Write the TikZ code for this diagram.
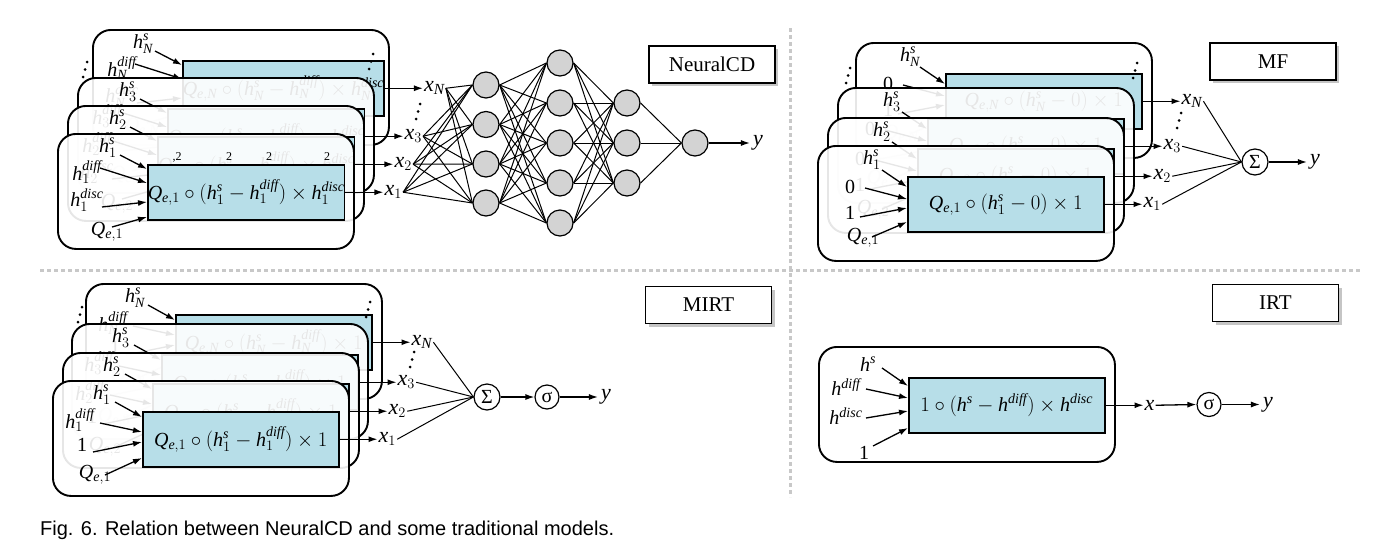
\documentclass[tikz,border=0pt]{standalone}
\usepackage{fontspec}
\setmainfont{Liberation Serif}
\newfontfamily\capfont{Liberation Sans}
\usetikzlibrary{arrows.meta,shadows,calc}

\definecolor{boxblue}{RGB}{183,222,232}
\definecolor{sepgray}{RGB}{200,200,200}
\definecolor{nngray}{RGB}{211,211,211}

\newcommand\fmfont{\fontsize{20}{24}\selectfont}
\newcommand\lbfont{\fontsize{20}{23}\selectfont}
\newcommand\xyfont{\fontsize{22}{25}\selectfont}
\newcommand\mytagfont{\fontsize{21}{25}\selectfont}
\newcommand\vh{\mathit{h}}
\newcommand\vQ{\mathit{Q}}
\newcommand\vx{\mathit{x}}
\newcommand\vy{\mathit{y}}
\newcommand\vs{\mathit{s}}
\newcommand\vdiff{\mathit{diff}}
\newcommand\vdisc{\mathit{disc}}
\newcommand\ve{\mathit{e}}

\tikzset{
 outerbox/.style={draw, line width=1.9pt, rounded corners=18pt, fill=white, fill opacity=0.9, minimum width=296pt, minimum height=115pt, inner sep=0pt, anchor=north west},
 bluebox/.style={draw, line width=1.5pt, fill=boxblue, minimum width=196pt, minimum height=55pt, inner sep=0pt, anchor=north west, font=\fmfont},
 arr/.style={-{Latex[length=9pt,width=6pt]}, line width=1.3pt},
 inlab/.style={inner sep=0pt, font=\lbfont},
 xlab/.style={inner sep=1pt, anchor=west, font=\xyfont},
 ylab/.style={inner sep=3pt, font=\xyfont},
 neuron/.style={circle, draw, line width=1.2pt, fill=nngray, minimum size=26pt, inner sep=0pt},
 opnode/.style={circle, draw, line width=1.2pt, fill=white, minimum size=26pt, inner sep=0pt, font=\lbfont},
 tagbox/.style={draw, line width=1.3pt, fill=white, minimum width=126pt, minimum height=37pt, inner sep=0pt, font=\mytagfont, drop shadow={shadow xshift=3pt, shadow yshift=-3pt, fill=black!45}},
 sep/.style={line width=3pt, sepgray, dash pattern=on 4pt off 3pt},
 nnline/.style={line width=1pt},
 dotmark/.style={fill=black},
}

% #1 name, #2 L, #3 T, #4 index
\newcommand\ncdlayer[4]{%
 \begin{scope}[shift={(#2,#3)}]
 \node[outerbox] (#1box) at (0,0) {};
 \node[inlab] (#1hs) at (51,15) {$\vh_{#4}^{\vs}$};
 \node[inlab] (#1hd) at (30,39) {$\vh_{#4}^{\vdiff}$};
 \node[inlab] (#1hc) at (30,67) {$\vh_{#4}^{\vdisc}$};
 \node[inlab] (#1q) at (50,99) {$\vQ_{\ve,#4}$};
 \node[bluebox] (#1blue) at (90,31) {$\vQ_{\ve,#4}\circ(\vh_{#4}^{\vs}-\vh_{#4}^{\vdiff})\times \vh_{#4}^{\vdisc}$};
 \coordinate (#1a1) at (63,22); \coordinate (#1b1) at (90,36);
 \coordinate (#1a2) at (43,35); \coordinate (#1b2) at (90,50);
 \coordinate (#1a3) at (45,74); \coordinate (#1b3) at (90,69);
 \coordinate (#1a4) at (55,94); \coordinate (#1b4) at (90,84);
 \draw[arr] (#1a1) -- (#1b1);
 \draw[arr] (#1a2) -- (#1b2);
 \draw[arr] (#1a3) -- (#1b3);
 \draw[arr] (#1a4) -- (#1b4);
 \node[xlab] (#1x) at ($(#1blue.east)+(38,0)$) {$\vx_{#4}$};
 \draw[arr] (#1blue.east) -- (#1x.west);
 \end{scope}}

\newcommand\mflayer[4]{%
 \begin{scope}[shift={(#2,#3)}]
 \node[outerbox] (#1box) at (0,0) {};
 \node[inlab] (#1hs) at (55,15) {$\vh_{#4}^{\vs}$};
 \node[inlab] (#1z) at (33,42) {0};
 \node[inlab] (#1o) at (33,68) {1};
 \node[inlab] (#1q) at (46,93) {$\vQ_{\ve,#4}$};
 \node[bluebox] (#1blue) at (90,31) {$\vQ_{\ve,#4}\circ(\vh_{#4}^{\vs}-0)\times 1$};
 \coordinate (#1a1) at (65,25); \coordinate (#1b1) at (90,42);
 \coordinate (#1a2) at (48,43); \coordinate (#1b2) at (90,54);
 \coordinate (#1a3) at (43,72); \coordinate (#1b3) at (90,63);
 \coordinate (#1a4) at (55,92); \coordinate (#1b4) at (90,77);
 \draw[arr] (#1a1) -- (#1b1);
 \draw[arr] (#1a2) -- (#1b2);
 \draw[arr] (#1a3) -- (#1b3);
 \draw[arr] (#1a4) -- (#1b4);
 \node[xlab] (#1x) at ($(#1blue.east)+(38,0)$) {$\vx_{#4}$};
 \draw[arr] (#1blue.east) -- (#1x.west);
 \end{scope}}

\newcommand\mirtlayer[4]{%
 \begin{scope}[shift={(#2,#3)}]
 \node[outerbox] (#1box) at (0,0) {};
 \node[inlab] (#1hs) at (50,15) {$\vh_{#4}^{\vs}$};
 \node[inlab] (#1hd) at (28,40) {$\vh_{#4}^{\vdiff}$};
 \node[inlab] (#1o) at (30,65) {1};
 \node[inlab] (#1q) at (43,95) {$\vQ_{\ve,#4}$};
 \node[bluebox] (#1blue) at (90,31) {$\vQ_{\ve,#4}\circ(\vh_{#4}^{\vs}-\vh_{#4}^{\vdiff})\times 1$};
 \coordinate (#1a1) at (63,22); \coordinate (#1b1) at (90,37);
 \coordinate (#1a2) at (48,43); \coordinate (#1b2) at (90,52);
 \coordinate (#1a3) at (41,72); \coordinate (#1b3) at (90,62);
 \coordinate (#1a4) at (53,95); \coordinate (#1b4) at (90,78);
 \draw[arr] (#1a1) -- (#1b1);
 \draw[arr] (#1a2) -- (#1b2);
 \draw[arr] (#1a3) -- (#1b3);
 \draw[arr] (#1a4) -- (#1b4);
 \node[xlab] (#1x) at ($(#1blue.east)+(38,0)$) {$\vx_{#4}$};
 \draw[arr] (#1blue.east) -- (#1x.west);
 \end{scope}}

\newcommand\threedots[2]{%
 \fill[dotmark] (#1+2,#2) circle (1.5pt);
 \fill[dotmark] (#1,#2+7.5) circle (1.5pt);
 \fill[dotmark] (#1-2,#2+15) circle (1.5pt);}

\begin{document}
\begin{tikzpicture}[x=1pt,y=-1pt]
\useasboundingbox (0,0) rectangle (1394,546);

% separators
\draw[sep] (790,28) -- (790,497);
\draw[sep] (40,270) -- (1362,270);

% ===== NeuralCD =====
\ncdlayer{ncdN}{92}{29}{\mathit{N}}
\ncdlayer{ncdc}{77}{77}{3}
\ncdlayer{ncdb}{67}{105}{2}
\ncdlayer{ncda}{57}{133}{1}
\node[font=\fontsize{12}{14}\selectfont, inner sep=0pt] (s2a) at (177,157) {,2};
\node[font=\fontsize{12}{14}\selectfont, inner sep=0pt] (s2b) at (229,157) {2};
\node[font=\fontsize{12}{14}\selectfont, inner sep=0pt] (s2c) at (269,157) {2};
\node[font=\fontsize{12}{14}\selectfont, inner sep=0pt] (s2d) at (327,157) {2};
\threedots{85}{62}
\threedots{371}{54}
\threedots{418}{104}

\foreach \i/\y in {1/85,2/124.5,3/164,4/203} \node[neuron] (a\i) at (486,\y) {};
\foreach \i/\y in {1/63,2/103,3/143,4/183,5/223} \node[neuron] (b\i) at (560,\y) {};
\foreach \i/\y in {1/103,2/143,3/183} \node[neuron] (c\i) at (627,\y) {};
\node[neuron] (o) at (695,143) {};
\foreach \s in {ncdN,ncdc,ncdb,ncda} \foreach \i in {1,...,4} \draw[nnline] (\s x.east) -- (a\i.west);
\foreach \i in {1,...,4} \foreach \j in {1,...,5} \draw[nnline] (a\i.east) -- (b\j.west);
\foreach \i in {1,...,5} \foreach \j in {1,...,3} \draw[nnline] (b\i.east) -- (c\j.west);
\foreach \i in {1,...,3} \draw[nnline] (c\i.east) -- (o.west);
\node[ylab] (ny) at (758,143) {$\vy$};
\draw[arr] (o.east) -- (ny.west);
\node[tagbox] (tncd) at (712,64.5) {NeuralCD};

% ===== MF =====
\mflayer{mfN}{855}{42}{\mathit{N}}
\mflayer{mfc}{837}{87}{3}
\mflayer{mfb}{827}{117}{2}
\mflayer{mfa}{817}{145}{1}
\threedots{848}{68}
\threedots{1135}{63}
\threedots{1179}{113}
\node[opnode] (mfsum) at (1255,162) {Σ};
\foreach \s in {mfN,mfc,mfb,mfa} \draw[nnline] (\s x.east) -- (mfsum.west);
\node[ylab] (mfy) at (1315,162) {$\vy$};
\draw[arr] (mfsum.east) -- (mfy.west);
\node[tagbox] (tmf) at (1273,61.5) {MF};

% ===== MIRT =====
\mirtlayer{miN}{85}{283}{\mathit{N}}
\mirtlayer{mic}{71}{323}{3}
\mirtlayer{mib}{62}{352}{2}
\mirtlayer{mia}{52}{380}{1}
\threedots{80}{307}
\threedots{368}{302}
\threedots{412}{352}
\node[opnode] (misum) at (487,397) {Σ};
\foreach \s in {miN,mic,mib,mia} \draw[nnline] (\s x.east) -- (misum.west);
\node[opnode, minimum size=24pt] (misig) at (547,397) {σ};
\draw[arr] (misum.east) -- (misig.west);
\node[ylab] (miy) at (606,397) {$\vy$};
\draw[arr] (misig.east) -- (miy.west);
\node[tagbox] (tmirt) at (708.5,305) {MIRT};

% ===== IRT =====
\node[outerbox, fill opacity=1] (irtbox) at (818,346) {};
\node[inlab] (irths) at (868,364) {$\vh^{\vs}$};
\node[inlab] (irthd) at (846,387) {$\vh^{\vdiff}$};
\node[inlab] (irthc) at (846,416) {$\vh^{\vdisc}$};
\node[inlab] (irto) at (864,453) {1};
\node[bluebox] (irtblue) at (908,377) {$1\circ(\vh^{\vs}-\vh^{\vdiff})\times \vh^{\vdisc}$};
\coordinate (irta1) at (882,368); \coordinate (irtb1) at (908,386);
\coordinate (irta2) at (866,389); \coordinate (irtb2) at (908,398);
\coordinate (irta3) at (866,418); \coordinate (irtb3) at (908,411);
\coordinate (irta4) at (873,446); \coordinate (irtb4) at (908,428);
\draw[arr] (irta1) -- (irtb1);
\draw[arr] (irta2) -- (irtb2);
\draw[arr] (irta3) -- (irtb3);
\draw[arr] (irta4) -- (irtb4);
\node[xlab] (irtx) at ($(irtblue.east)+(38,0)$) {$\vx$};
\draw[arr] (irtblue.east) -- (irtx.west);
\node[opnode, minimum size=24pt] (irtsig) at (1209,404.5) {σ};
\draw[arr] (irtx.east) -- (irtsig.west);
\node[ylab] (irty) at (1268,404.5) {$\vy$};
\draw[arr] (irtsig.east) -- (irty.west);
\node[tagbox] (tirt) at (1275.5,303) {IRT};

% caption
\node[anchor=base west, inner sep=0pt, font=\capfont\fontsize{20}{24}\selectfont] (cap) at (40,535) {Fig. 6. Relation between NeuralCD and some traditional models.};
\end{tikzpicture}
\end{document}
